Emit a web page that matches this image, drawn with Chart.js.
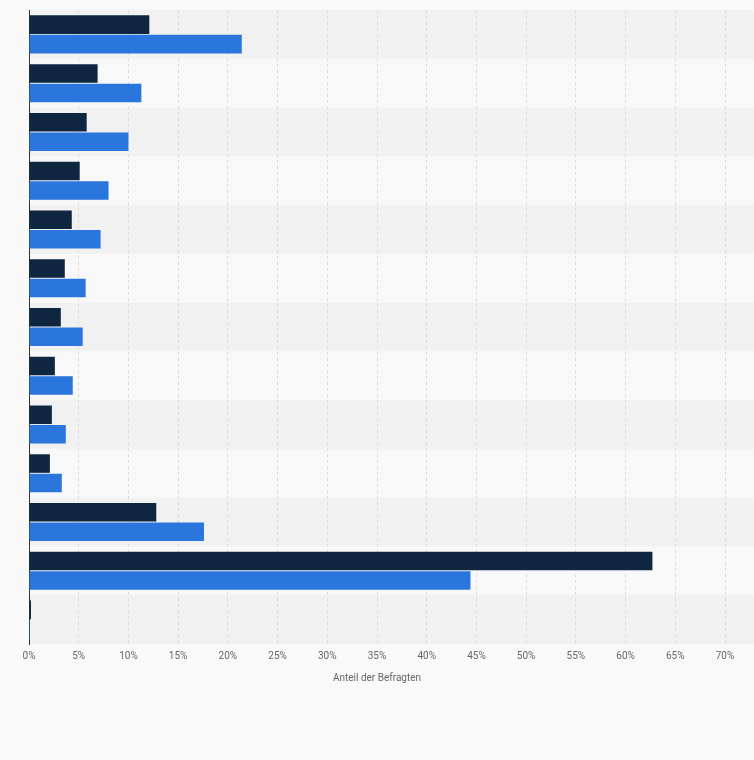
<!DOCTYPE html>
<html><head><meta charset="utf-8">
<script src="https://cdn.jsdelivr.net/npm/chart.js@4"></script>
<style>html,body{margin:0;padding:0;background:#f9f9f9}#w{width:754px;height:760px}</style>
</head><body><div id="w"><canvas id="c"></canvas></div>
<script>
const categories = ["1","2","3","4","5","6","7","8","9","10","11","12","13"];
const seriesDark = [12.1,6.9,5.8,5.1,4.3,3.6,3.2,2.6,2.3,2.1,12.8,62.7,0.2];
const seriesBlue = [21.4,11.3,10.0,8.0,7.2,5.7,5.4,4.4,3.7,3.3,17.6,44.4,0.1];
const xTicks = [0,5,10,15,20,25,30,35,40,45,50,55,60,65,70];

const bands = {
  id:'bands',
  beforeDraw(chart){
    const {ctx, chartArea:a, scales:{y}} = chart;
    ctx.save();
    const n = categories.length, h = (a.bottom-a.top)/n;
    for(let i=0;i<n;i++){
      ctx.fillStyle = i%2===0 ? '#f1f1f1' : '#f8f8f8';
      ctx.fillRect(a.left, a.top+i*h, a.right-a.left+30, h);
    }
    ctx.restore();
  }
};
new Chart(document.getElementById('c'),{
  type:'bar',
  data:{labels:categories,datasets:[
    {data:seriesDark,backgroundColor:'#0f2640',categoryPercentage:0.8,barPercentage:0.95},
    {data:seriesBlue,backgroundColor:'#2a76dd',categoryPercentage:0.8,barPercentage:0.95}
  ]},
  options:{indexAxis:'y',responsive:true,maintainAspectRatio:false,animation:false,
    layout:{padding:{left:29,right:29,top:10,bottom:72}},
    plugins:{legend:{display:false},tooltip:{enabled:false}},
    scales:{
      x:{min:0,max:70,afterBuildTicks(s){s.ticks=xTicks.map(v=>({value:v}));},
        ticks:{callback:v=>v+'%',color:'#666',font:{family:'Roboto',size:10},padding:6},
        grid:{color:'#dcdcdc',borderDash:[3,3],drawTicks:false},
        border:{display:false,dash:[3,3]},
        title:{display:true,text:'Anteil der Befragten',color:'#666',font:{family:'Roboto',size:10}}},
      y:{ticks:{display:false},grid:{display:false,drawTicks:false},border:{display:true,color:'#333'}}
    }},
  plugins:[bands]
});
</script></body></html>
